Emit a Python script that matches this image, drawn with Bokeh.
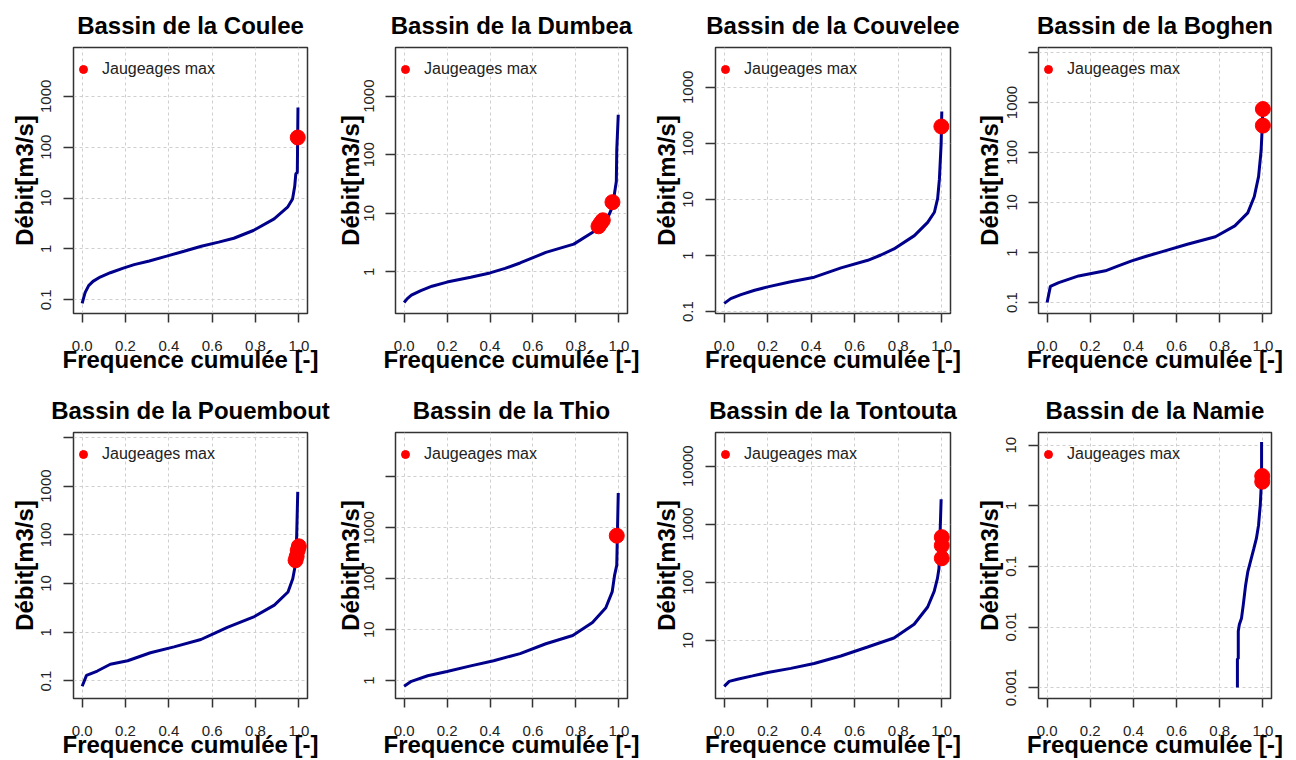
from bokeh.plotting import figure
from bokeh.layouts import column, row
from bokeh.models import FixedTicker, PrintfTickFormatter, Range1d, Legend
from bokeh.embed import file_html
from bokeh.resources import INLINE

FONT = "Liberation Sans"

# ---- data ----
basin_names = ["Coulee", "Dumbea", "Couvelee", "Boghen",
               "Pouembout", "Thio", "Tontouta", "Namie"]

coulee_freq = [0.0, 0.007, 0.014, 0.03, 0.05, 0.083, 0.13, 0.19, 0.24, 0.31, 0.39, 0.47, 0.55, 0.63, 0.70, 0.79, 0.886, 0.948, 0.971, 0.981, 0.986, 0.993, 0.996]
coulee_q = [0.085, 0.11, 0.14, 0.19, 0.23, 0.28, 0.34, 0.42, 0.49, 0.58, 0.72, 0.90, 1.13, 1.36, 1.62, 2.3, 3.9, 6.6, 9.6, 17, 30, 32, 600]
coulee_jauge_freq = [0.995]
coulee_jauge_q = [155]

dumbea_freq = [0.0, 0.015, 0.034, 0.078, 0.13, 0.20, 0.31, 0.40, 0.47, 0.54, 0.66, 0.79, 0.88, 0.94, 0.97, 0.988, 0.99, 0.997]
dumbea_q = [0.30, 0.35, 0.40, 0.48, 0.57, 0.67, 0.81, 0.96, 1.15, 1.42, 2.15, 2.98, 4.8, 7.1, 13, 35, 120, 480]
dumbea_jauge_freq = [0.905, 0.915, 0.925, 0.97]
dumbea_jauge_q = [6.0, 6.8, 7.6, 15.5]

couvelee_freq = [0.0, 0.03, 0.077, 0.14, 0.2, 0.306, 0.414, 0.537, 0.66, 0.72, 0.78, 0.874, 0.935, 0.966, 0.981, 0.989, 0.997, 1.0]
couvelee_q = [0.14, 0.17, 0.20, 0.24, 0.275, 0.34, 0.41, 0.60, 0.82, 1.02, 1.31, 2.26, 3.9, 5.9, 10.4, 23, 100, 370]
couvelee_jauge_freq = [0.998]
couvelee_jauge_q = [200]

boghen_freq = [0.0, 0.015, 0.054, 0.146, 0.27, 0.33, 0.392, 0.46, 0.53, 0.65, 0.78, 0.87, 0.93, 0.96, 0.98, 0.992, 0.997, 1.0]
boghen_q = [0.10, 0.21, 0.25, 0.34, 0.43, 0.54, 0.68, 0.84, 1.03, 1.46, 2.07, 3.4, 6.2, 13, 33, 111, 320, 750]
boghen_jauge_freq = [1.0, 1.0]
boghen_jauge_q = [740, 345]

pouembout_freq = [0.0, 0.02, 0.07, 0.13, 0.21, 0.315, 0.424, 0.548, 0.61, 0.67, 0.795, 0.887, 0.95, 0.972, 0.983, 0.99, 0.995]
pouembout_q = [0.078, 0.13, 0.16, 0.22, 0.26, 0.38, 0.50, 0.71, 0.95, 1.26, 2.1, 3.6, 6.7, 12.5, 23, 94, 760]
pouembout_jauge_freq = [0.985, 0.99, 0.995, 1.0]
pouembout_jauge_q = [30, 36, 48, 58]

thio_freq = [0.0, 0.034, 0.11, 0.20, 0.31, 0.417, 0.54, 0.66, 0.785, 0.877, 0.939, 0.969, 0.98, 0.99, 0.997]
thio_q = [0.78, 0.97, 1.25, 1.51, 1.95, 2.46, 3.4, 5.3, 7.7, 13.9, 27, 56, 118, 185, 4800]
thio_jauge_freq = [0.99]
thio_jauge_q = [700]

tontouta_freq = [0.0, 0.023, 0.061, 0.13, 0.2, 0.306, 0.413, 0.536, 0.659, 0.78, 0.873, 0.935, 0.965, 0.98, 0.987, 0.997]
tontouta_q = [1.62, 1.97, 2.15, 2.45, 2.8, 3.3, 4.0, 5.4, 7.7, 11, 19, 37.6, 70, 117, 173, 2700]
tontouta_jauge_freq = [1.0, 1.0, 1.0]
tontouta_jauge_q = [260, 430, 600]

namie_freq = [0.882, 0.882, 0.886, 0.886, 0.891, 0.901, 0.909, 0.92, 0.93, 0.946, 0.958, 0.97, 0.98, 0.985, 0.988, 0.994, 0.994]
namie_q = [0.001, 0.003, 0.003, 0.0085, 0.011, 0.014, 0.023, 0.049, 0.081, 0.135, 0.196, 0.29, 0.48, 0.79, 1.02, 2.8, 11.3]
namie_jauge_freq = [0.997, 0.997]
namie_jauge_q = [2.5, 3.1]

x_ticks = [0.0, 0.2, 0.4, 0.6, 0.8, 1.0]

# log10 limits of each y axis, and y ticks (labelled / unlabelled)
y_limits = [(-1.27, 3.96), (-0.71, 3.83), (-1.035, 3.71), (-1.22, 4.1),
            (-1.36, 4.1), (-0.35, 4.87), (0.0, 4.58), (-3.18, 1.21)]
y_ticks = [[0.1, 1, 10, 100, 1000],
           [1, 10, 100, 1000],
           [0.1, 1, 10, 100, 1000],
           [0.1, 1, 10, 100, 1000, 10000],
           [0.1, 1, 10, 100, 1000, 10000],
           [1, 10, 100, 1000, 10000],
           [10, 100, 1000, 10000],
           [0.001, 0.01, 0.1, 1, 10]]
y_unlabelled = [[], [], [], [10000], [10000], [10000], [], []]
tick_text = {0.001: "0.001", 0.01: "0.01", 0.1: "0.1", 1: "1", 10: "10",
             100: "100", 1000: "1000", 10000: "10000"}

series = [
    (coulee_freq, coulee_q, coulee_jauge_freq, coulee_jauge_q),
    (dumbea_freq, dumbea_q, dumbea_jauge_freq, dumbea_jauge_q),
    (couvelee_freq, couvelee_q, couvelee_jauge_freq, couvelee_jauge_q),
    (boghen_freq, boghen_q, boghen_jauge_freq, boghen_jauge_q),
    (pouembout_freq, pouembout_q, pouembout_jauge_freq, pouembout_jauge_q),
    (thio_freq, thio_q, thio_jauge_freq, thio_jauge_q),
    (tontouta_freq, tontouta_q, tontouta_jauge_freq, tontouta_jauge_q),
    (namie_freq, namie_q, namie_jauge_freq, namie_jauge_q),
]

# ---- layout (borders in px) ----
col_geom = [(73, 234, 26), (60, 234, 22), (65, 236, 22), (65, 234, 20)]
row_geom = [(47, 268, 60), (57, 270, 58)]
# y-axis label spacing per column (tick label standoff, axis label standoff)
col_ylab = [(12, 1), (11, -2), (12, 1), (12, 1)]

TXT = "#222222"
BOX = "#333333"


def make_panel(i):
    L, W, R = col_geom[i % 4]
    T, H, B = row_geom[i // 4]
    lo, hi = y_limits[i]
    fx, q, jx, jq = series[i]
    p = figure(width=L + W + R, height=T + H + B,
               min_border_left=L, min_border_right=R,
               min_border_top=T, min_border_bottom=B,
               y_axis_type="log",
               x_range=Range1d(-0.04, 1.04),
               y_range=Range1d(10 ** lo, 10 ** hi),
               output_backend="svg", toolbar_location=None,
               title="Bassin de la " + basin_names[i])
    p.background_fill_color = "white"
    p.border_fill_color = "white"
    p.outline_line_color = BOX
    p.outline_line_width = 1.5

    p.title.text_font = FONT
    p.title.text_font_size = "24px"
    p.title.text_font_style = "bold"
    p.title.text_color = "black"
    p.title.align = "center"
    p.title.standoff = 17

    # grids
    p.xgrid.ticker = FixedTicker(ticks=x_ticks)
    p.ygrid.ticker = FixedTicker(ticks=y_ticks[i])
    for g in (p.xgrid, p.ygrid):
        g.grid_line_color = "#cfcfcf"
        g.grid_line_dash = "3 3"
        g.grid_line_width = 1
        g.minor_grid_line_color = None

    # axes
    xa = p.xaxis[0]
    xa.ticker = FixedTicker(ticks=x_ticks)
    xa.formatter = PrintfTickFormatter(format="%.1f")
    xa.axis_label = "Frequence cumulée [-]"
    xa.major_tick_out = 9
    xa.major_label_standoff = 18
    xa.axis_label_standoff = -8

    ls, als = col_ylab[i % 4]
    ya = p.yaxis[0]
    ya.ticker = FixedTicker(ticks=y_ticks[i])
    ya.major_label_overrides = {t: ("" if t in y_unlabelled[i] else tick_text[t])
                                for t in y_ticks[i]}
    ya.major_label_orientation = "vertical"
    ya.axis_label = "Débit[m3/s]"
    ya.major_tick_out = 10
    ya.major_label_standoff = ls
    ya.axis_label_standoff = als

    for a in (xa, ya):
        a.axis_line_color = None
        a.major_tick_in = 0
        a.major_tick_line_color = BOX
        a.major_tick_line_width = 1.5
        a.minor_tick_line_color = None
        a.major_label_text_font = FONT
        a.major_label_text_font_size = "15px"
        a.major_label_text_color = TXT
        a.axis_label_text_font = FONT
        a.axis_label_text_font_size = "24px"
        a.axis_label_text_font_style = "bold"
        a.axis_label_text_color = "black"

    p.line(fx, q, line_color="#00008B", line_width=3)
    r = p.scatter(jx, jq, size=15, marker="circle", fill_color="red", line_color="red")

    leg = Legend(items=[("Jaugeages max", [r])], location="top_left",
                 margin=0, padding=3, glyph_width=20, glyph_height=44,
                 label_standoff=9, border_line_color=None,
                 background_fill_alpha=0.0,
                 label_text_font=FONT, label_text_font_size="16px",
                 label_text_color=TXT)
    p.add_layout(leg)
    return p


figs = [make_panel(i) for i in range(8)]
layout = column(row(*figs[:4]), row(*figs[4:]))

open("out.html", "w").write(file_html(layout, INLINE))
